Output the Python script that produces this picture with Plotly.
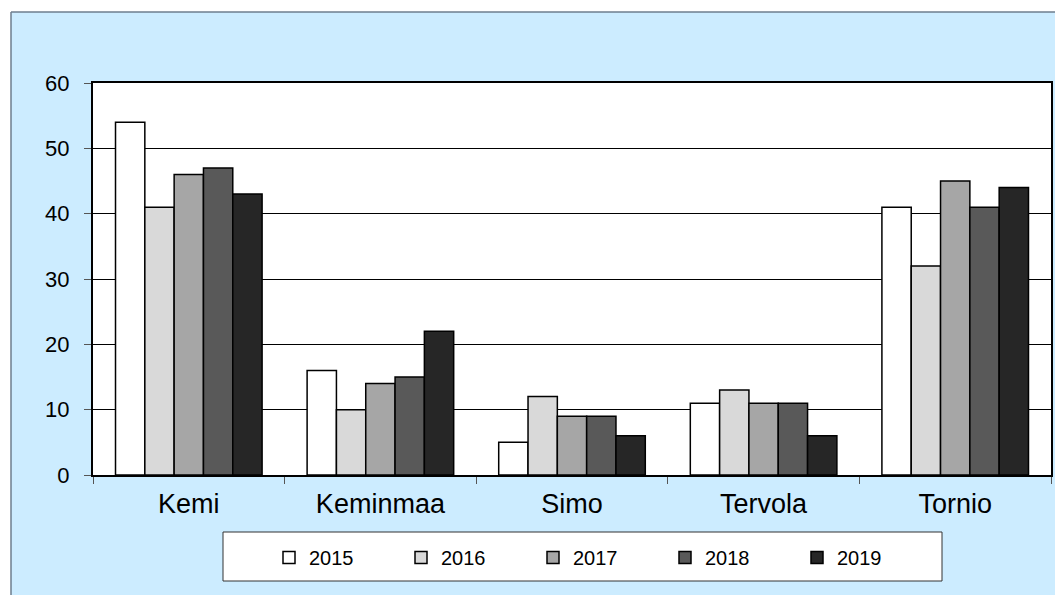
import plotly.graph_objects as go

categories = ["Kemi", "Keminmaa", "Simo", "Tervola", "Tornio"]
years = ["2015", "2016", "2017", "2018", "2019"]
v2015 = [54, 16, 5, 11, 41]
v2016 = [41, 10, 12, 13, 32]
v2017 = [46, 14, 9, 11, 45]
v2018 = [47, 15, 9, 11, 41]
v2019 = [43, 22, 6, 6, 44]
series = [v2015, v2016, v2017, v2018, v2019]
colors = ["#FFFFFF", "#D9D9D9", "#A6A6A6", "#595959", "#262626"]

# the page body has an 8px margin; figure is sized to fill the rest of the window
OFF = 8
PAGE_W, PAGE_H = 1063, 595
W, H = PAGE_W - OFF, PAGE_H - OFF
# plot area in page pixels: x 93..1051, y 83..475
L, R, T, B = 93 - OFF, PAGE_W - 1051, 83 - OFF, PAGE_H - 475
pw, ph = W - L - R, H - T - B

def px_x(p):  # page pixel -> paper x
    return (p - OFF - L) / pw

def px_y(p):  # page pixel -> paper y
    return (H - B - (p - OFF)) / ph

fig = go.Figure()
for name, vals, c in zip(years, series, colors):
    fig.add_trace(go.Bar(
        x=categories, y=vals, name=name,
        marker=dict(color=c, line=dict(color="#000000", width=1.5)),
    ))

font = "Liberation Sans, Arial, sans-serif"
shapes = [
    dict(type="rect", xref="paper", yref="paper", x0=px_x(0), x1=px_x(PAGE_W + 5), y0=px_y(12), y1=px_y(0),
         fillcolor="#FFFFFF", line=dict(width=0), layer="below"),
    dict(type="rect", xref="paper", yref="paper", x0=px_x(0), x1=px_x(11), y0=px_y(PAGE_H + 5), y1=px_y(0),
         fillcolor="#FFFFFF", line=dict(width=0), layer="below"),
    dict(type="line", xref="paper", yref="paper", x0=px_x(11), x1=px_x(PAGE_W + 5), y0=px_y(12), y1=px_y(12),
         line=dict(color="#6E7E8E", width=1.5), layer="below"),
    dict(type="line", xref="paper", yref="paper", x0=px_x(11), x1=px_x(11), y0=px_y(12), y1=px_y(PAGE_H + 5),
         line=dict(color="#6E7E8E", width=1.5), layer="below"),
    dict(type="rect", xref="paper", yref="paper", x0=px_x(223), x1=px_x(942), y0=px_y(581), y1=px_y(532),
         fillcolor="#FFFFFF", line=dict(color="#333333", width=1), layer="below"),
]

fig.update_layout(
    width=W, height=H,
    margin=dict(l=L, r=R, t=T, b=B, pad=0, autoexpand=False),
    paper_bgcolor="#CCECFF",
    plot_bgcolor="#FFFFFF",
    barmode="group",
    bargap=0.235,
    bargroupgap=0,
    font=dict(family=font, color="#000000"),
    showlegend=True,
    legend=dict(
        orientation="h",
        x=px_x(269), y=px_y(538), xanchor="left", yanchor="top",
        bgcolor="rgba(0,0,0,0)", borderwidth=0,
        font=dict(size=20, family=font),
        entrywidth=87, entrywidthmode="pixels",
        itemwidth=30,
    ),
    shapes=shapes,
    xaxis=dict(
        showline=True, linecolor="#000000", linewidth=2, mirror=True,
        ticks="outside", tickson="boundaries", ticklen=7, tickcolor="#555555", tickwidth=1,
        tickfont=dict(size=27, family=font),
        ticklabelstandoff=4,
        showgrid=False,
    ),
    yaxis=dict(
        range=[0, 60], dtick=10, tick0=0,
        showline=True, linecolor="#000000", linewidth=2, mirror=True,
        ticks="outside", ticklen=7, tickcolor="#555555", tickwidth=1,
        tickfont=dict(size=22, family=font),
        ticklabelstandoff=10,
        showgrid=True, gridcolor="#000000", gridwidth=1,
        zeroline=False,
    ),
)

fig.write_html("out.html")
